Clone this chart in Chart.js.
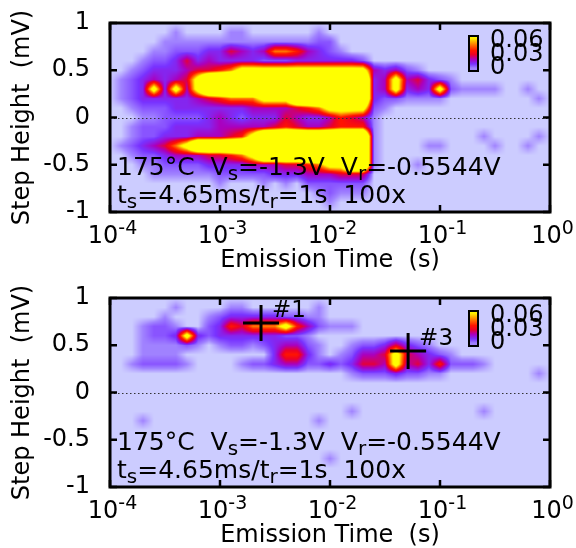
<!DOCTYPE html>
<html><head><meta charset="utf-8">
<script src="https://cdn.jsdelivr.net/npm/chart.js@4/dist/chart.umd.min.js"></script>
<style>
html,body{margin:0;padding:0;background:#fff;overflow:hidden;width:576px;height:548px;}
.panel{position:absolute;left:0;width:576px;height:275px;}
canvas{display:block;}
</style></head><body>
<div class="panel" style="top:0"><canvas id="c1" width="576" height="275"></canvas></div>
<div class="panel" style="top:275px"><canvas id="c2" width="576" height="275"></canvas></div>
<script>
// ---------- data ----------
const BIN_LOG_TIME = [-4.0,-3.9,-3.8,-3.7,-3.6,-3.5,-3.4,-3.3,-3.2,-3.1,-3.0,-2.9,-2.8,-2.7,-2.6,-2.5,-2.4,-2.3,-2.2,-2.1,-2.0,-1.9,-1.8,-1.7,-1.6,-1.5,-1.4,-1.3,-1.2,-1.1,-1.0,-0.9,-0.8,-0.7,-0.6,-0.5,-0.4,-0.3,-0.2,-0.1,0.0];
const BIN_STEP_HEIGHT = [1.0,0.9,0.8,0.7,0.6,0.5,0.4,0.3,0.2,0.1,0.0,-0.1,-0.2,-0.3,-0.4,-0.5,-0.6,-0.7,-0.8,-0.9,-1.0];
// density level for each code digit 0-9
const DENSITY_LEVELS = [0, 0.005, 0.009, 0.014, 0.02, 0.027, 0.035, 0.045, 0.07, 0.12];
// rows: step height 1.0 -> -1.0 ; columns: log10(time) -4.0 -> 0.0
const DENSITY_TOP = [
 "00000000000000000000000000000000000000000",
 "00000010000110000001000000000000000000000",
 "00000111111111111112200000000000000000000",
 "00001122233543477643210000000000000000000",
 "00012235343333222333333200000000000000000",
 "00123334556788888888888843421000000000000",
 "01234345899999999999999934845321000000000",
 "01238384899999999999999934834382111100100",
 "01233333456777888999999932211110000000010",
 "00122233333334444567888821000000000000000",
 "00011222234323335433465410000000000000000",
 "00122233334444456544566610000000000000000",
 "00122333444568999999999910000000001000010",
 "01234578999999999999999910000110000100100",
 "00122344455678999999999910000000000000000",
 "00011222233334445567889910001000000000000",
 "00001111112222233344455500000000000000000",
 "00000000001000101022222200000000000000000",
 "00000000000000000001211100000000000000000",
 "00000000000000000000100000000000000000000",
 "00000000000000000000000000000000000000000"
];
const DENSITY_BOTTOM = [
 "00000000000000000000000000000000000000000",
 "00000010000110000001000000000000000000000",
 "00000100012333332211000000000000000000000",
 "00012210023657778642111000000000000000000",
 "00012238323333332210000000000000000000000",
 "00011112101221234421001223532100000000000",
 "00011110000000036631012445854321000000000",
 "00122221000012234422323554845362221000000",
 "00000000000000000000001222322110000000010",
 "00000000000000000000000000000000000000000",
 "00000000000000000000000000000000000000000",
 "00000000000000000000000000000000000000000",
 "00000000000000000000001000000000001000000",
 "00010000000000000001000000000000000000000",
 "00000000000000000000000000000000000000000",
 "00000000000000000000000000000000000000000",
 "00000000000000000000000000000000000000000",
 "00000000000000000000100000000000000000000",
 "00000000000000000000000000000000000000000",
 "00000000000000000000000000000000000000000",
 "00000000000000000000000000000000000000000"
];
const X_TICK_EXPONENTS = [-4, -3, -2, -1, 0];
const Y_TICK_VALUES = [-1, -0.5, 0, 0.5, 1];
const Y_TICK_LABELS = ['-1', '-0.5', '0', '0.5', '1'];
const COLORBAR_VALUES = [0.06, 0.03, 0];
const COLORBAR_LABELS = ['0.06', '0.03', '0'];
const MARKER_TIMES = [0.00236, 0.0513];
const MARKER_HEIGHTS = [0.735, 0.44];
const MARKER_LABELS = ['#1', '#3'];
const NOTE_LINE1 = [['175°C  V', 0], ['s', 1], ['=-1.3V  V', 0], ['r', 1], ['=-0.5544V', 0]];
const NOTE_LINE2 = [['t', 0], ['s', 1], ['=4.65ms/t', 0], ['r', 1], ['=1s  100x', 0]];
const X_TITLE = 'Emission Time  (s)';
const Y_TITLE = 'Step Height  (mV)';

// ---------- styles ----------
const FONT = '"DejaVu Sans", sans-serif';
const PALETTE = [
 [0, [204,204,255]], [0.005, [160,130,255]], [0.012, [120,50,255]], [0.02, [170,0,190]],
 [0.028, [235,0,40]], [0.035, [255,20,0]], [0.045, [255,120,0]], [0.055, [255,230,0]], [0.06, [255,255,0]]
];
function colorFor(v) {
  if (v <= PALETTE[0][0]) return PALETTE[0][1];
  for (let k = 1; k < PALETTE.length; k++) {
    if (v <= PALETTE[k][0]) {
      const a = PALETTE[k-1], b = PALETTE[k], f = (v - a[0]) / (b[0] - a[0]);
      return [0,1,2].map(c => a[1][c] + f * (b[1][c] - a[1][c]));
    }
  }
  return PALETTE[PALETTE.length-1][1];
}

Chart.defaults.font.family = FONT;
Chart.defaults.color = '#000';

function makeHeatPlugin(rows) {
  const grid = rows.map(r => Array.from(r, ch => DENSITY_LEVELS[+ch]));
  return {
    id: 'heat',
    beforeDatasetsDraw(chart) {
      const { ctx, chartArea: ca, scales: { x: xs, y: ys } } = chart;
      const L = Math.round(ca.left), T = Math.round(ca.top);
      const W = Math.round(ca.right) - L, H = Math.round(ca.bottom) - T;
      const off = document.createElement('canvas'); off.width = W; off.height = H;
      const octx = off.getContext('2d');
      const img = octx.createImageData(W, H);
      const nx = BIN_LOG_TIME.length, ny = BIN_STEP_HEIGHT.length;
      const lt0 = BIN_LOG_TIME[0], ltStep = BIN_LOG_TIME[1] - BIN_LOG_TIME[0];
      const h0 = BIN_STEP_HEIGHT[0], hStep = BIN_STEP_HEIGHT[1] - BIN_STEP_HEIGHT[0];
      const gxs = new Float32Array(W), gys = new Float32Array(H);
      for (let px = 0; px < W; px++) {
        const t = xs.getValueForPixel(L + px + 0.5);
        gxs[px] = Math.min(Math.max((Math.log10(t) - lt0) / ltStep, 0), nx - 1);
      }
      for (let py = 0; py < H; py++) {
        const h = ys.getValueForPixel(T + py + 0.5);
        gys[py] = Math.min(Math.max((h - h0) / hStep, 0), ny - 1);
      }
      const d = img.data;
      for (let py = 0; py < H; py++) {
        const gy = gys[py]; const j0 = Math.min(Math.floor(gy), ny - 2); const fy = gy - j0;
        const r0 = grid[j0], r1 = grid[j0 + 1];
        for (let px = 0; px < W; px++) {
          const gx = gxs[px]; const i0 = Math.min(Math.floor(gx), nx - 2); const fx = gx - i0;
          const v = (r0[i0] * (1 - fx) + r0[i0 + 1] * fx) * (1 - fy) + (r1[i0] * (1 - fx) + r1[i0 + 1] * fx) * fy;
          const c = colorFor(v); const o = (py * W + px) * 4;
          d[o] = c[0]; d[o+1] = c[1]; d[o+2] = c[2]; d[o+3] = 255;
        }
      }
      octx.putImageData(img, 0, 0);
      ctx.drawImage(off, L, T);
    }
  };
}

function drawRich(ctx, segs, x, y, size) {
  let cx = x;
  for (const [t, sub] of segs) {
    const fs = sub ? size * 0.8 : size;
    ctx.font = fs + 'px ' + FONT;
    ctx.fillText(t, cx, y + (sub ? 5 : 0));
    cx += ctx.measureText(t).width;
  }
}

function makeDecorPlugin(withMarkers) {
  return {
    id: 'decor',
    afterDatasetsDraw(chart) {
      const { ctx, chartArea: ca, scales: { x: xs, y: ys } } = chart;
      ctx.save();
      // zero line
      const yz = Math.round(ys.getPixelForValue(0)) + 0.5;
      ctx.strokeStyle = '#333'; ctx.lineWidth = 1; ctx.setLineDash([1.5, 2.5]);
      ctx.beginPath(); ctx.moveTo(ca.left, yz); ctx.lineTo(ca.right, yz); ctx.stroke();
      ctx.setLineDash([]);
      // notes
      ctx.fillStyle = '#000'; ctx.textAlign = 'left'; ctx.textBaseline = 'alphabetic';
      drawRich(ctx, NOTE_LINE1, ca.left + 7, ca.top + 152, 25);
      drawRich(ctx, NOTE_LINE2, ca.left + 7, ca.top + 180, 25);
      // colour box
      const bx = ca.right - 81, bw = 9, bt = ca.top + 13, bh = 35;
      for (let k = 0; k < bh; k++) {
        const v = COLORBAR_VALUES[0] * (1 - (k + 0.5) / bh);
        const c = colorFor(Math.max(v, 0.005));
        ctx.fillStyle = 'rgb(' + c.map(Math.round).join(',') + ')';
        ctx.fillRect(bx, bt + k, bw, 1);
      }
      ctx.strokeStyle = '#000'; ctx.lineWidth = 2; ctx.strokeRect(bx, bt, bw, bh);
      ctx.fillStyle = '#000'; ctx.font = '24px ' + FONT;
      COLORBAR_LABELS.forEach((lab, k) => ctx.fillText(lab, ca.right - 60, bt + 11 + k * 13.5));
      // frame
      ctx.lineWidth = 3; ctx.strokeStyle = '#000';
      ctx.strokeRect(ca.left, ca.top, ca.right - ca.left, ca.bottom - ca.top);
      ctx.lineWidth = 2.5;
      const seg = (a, b, c, e) => { ctx.beginPath(); ctx.moveTo(a, b); ctx.lineTo(c, e); ctx.stroke(); };
      X_TICK_EXPONENTS.forEach(e => {
        const x = xs.getPixelForValue(Math.pow(10, e));
        seg(x, ca.bottom, x, ca.bottom - 7); seg(x, ca.top, x, ca.top + 7);
      });
      Y_TICK_VALUES.forEach(v => {
        const y = ys.getPixelForValue(v);
        seg(ca.left, y, ca.left + 7, y); seg(ca.right, y, ca.right - 7, y);
      });
      // x tick labels 10^n
      X_TICK_EXPONENTS.forEach(e => {
        const x = xs.getPixelForValue(Math.pow(10, e));
        const main = '10', sup = String(e);
        ctx.font = '24px ' + FONT; const w1 = ctx.measureText(main).width;
        ctx.font = '19px ' + FONT; const w2 = ctx.measureText(sup).width;
        const sx = x + 2.5 - (w1 + w2) / 2;
        ctx.font = '24px ' + FONT; ctx.fillText(main, sx, ca.bottom + 31);
        ctx.font = '19px ' + FONT; ctx.fillText(sup, sx + w1, ca.bottom + 22);
      });
      if (withMarkers) {
        ctx.font = '23px ' + FONT;
        MARKER_LABELS.forEach((lab, k) => {
          const x = xs.getPixelForValue(MARKER_TIMES[k]), y = ys.getPixelForValue(MARKER_HEIGHTS[k]);
          ctx.fillText(lab, x + 11, y - 6);
        });
      }
      ctx.restore();
    }
  };
}

function makeChart(id, rows, withMarkers) {
  const datasets = [];
  if (withMarkers) {
    datasets.push({
      data: MARKER_TIMES.map((t, k) => ({ x: t, y: MARKER_HEIGHTS[k] })),
      pointStyle: 'cross', pointRadius: 18, pointBorderWidth: 3,
      borderColor: '#000', backgroundColor: '#000', showLine: false
    });
  }
  return new Chart(document.getElementById(id), {
    type: 'scatter',
    data: { datasets },
    options: {
      responsive: false, animation: false, devicePixelRatio: 1, events: [],
      layout: { padding: { top: 23, right: 26, left: 0, bottom: 0 } },
      plugins: { legend: { display: false }, tooltip: { enabled: false } },
      scales: {
        x: {
          type: 'logarithmic', min: 1e-4, max: 1,
          grid: { display: false, drawTicks: false }, border: { display: false },
          ticks: { display: false },
          title: { display: true, text: X_TITLE, font: { size: 24 }, color: '#000', padding: { top: 0, bottom: 0 } },
          afterFit(s) { s.height = 63; s.paddingLeft = 0; s.paddingRight = 0; }
        },
        y: {
          type: 'linear', min: -1, max: 1,
          grid: { display: false, drawTicks: false }, border: { display: false },
          ticks: { font: { size: 24 }, color: '#000', padding: 20,
                   callback: (v) => { const k = Y_TICK_VALUES.indexOf(v); return k >= 0 ? Y_TICK_LABELS[k] : ''; } },
          afterBuildTicks(s) { s.ticks = Y_TICK_VALUES.map(v => ({ value: v })); },
          title: { display: true, text: Y_TITLE, font: { size: 24 }, color: '#000', padding: { top: 8, bottom: 0 } },
          afterFit(s) { s.width = 110; s.paddingTop = 0; s.paddingBottom = 0; }
        }
      }
    },
    plugins: [makeHeatPlugin(rows), makeDecorPlugin(withMarkers)]
  });
}

makeChart('c1', DENSITY_TOP, false);
makeChart('c2', DENSITY_BOTTOM, true);
</script></body></html>
